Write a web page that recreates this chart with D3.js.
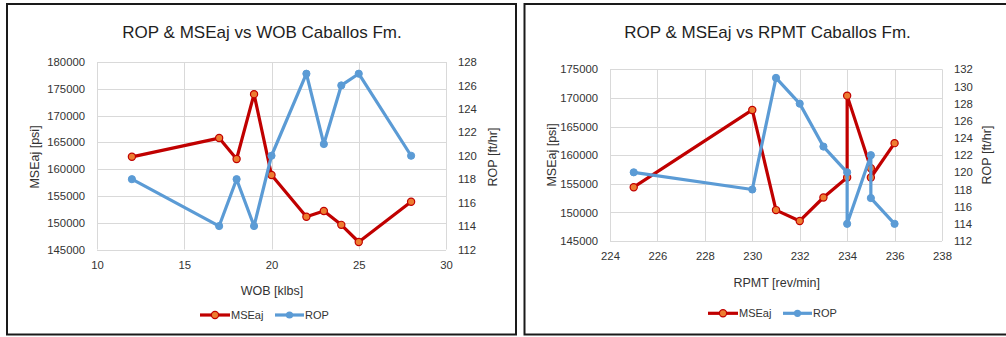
<!DOCTYPE html>
<html>
<head>
<meta charset="utf-8">
<script src="https://cdn.jsdelivr.net/npm/d3@7"></script>
<style>
  html, body { margin: 0; padding: 0; background: #fff; }
  svg { display: block; }
  text { font-family: "Liberation Sans", Arial, sans-serif; }
</style>
</head>
<body>
<svg id="chart" width="1006" height="337"></svg>
<script>
// ---------- data ----------
const wob = [12, 17, 18, 19, 20, 22, 23, 24, 25, 28];
const mseWob = [162300, 165800, 161900, 174000, 158900, 151100, 152200, 149600, 146400, 153900];
const ropWob = [118, 114, 118, 114, 120, 127, 121, 126, 127, 120];

const rpmt = [225, 230, 231, 232, 233, 234, 234, 235, 235, 236];
const mseRpm = [154400, 167900, 150400, 148500, 152600, 156100, 170400, 157700, 156100, 162100];
const ropRpm = [120, 118, 131, 128, 123, 120, 114, 122, 117, 114];

const wobTicks = [10, 15, 20, 25, 30];
const rpmTicks = [224, 226, 228, 230, 232, 234, 236, 238];
const mseTicksWob = [145000, 150000, 155000, 160000, 165000, 170000, 175000, 180000];
const mseTicksRpm = [145000, 150000, 155000, 160000, 165000, 170000, 175000];
const ropTicksWob = [112, 114, 116, 118, 120, 122, 124, 126, 128];
const ropTicksRpm = [112, 114, 116, 118, 120, 122, 124, 126, 128, 130, 132];

const titles = ["ROP & MSEaj vs WOB Caballos Fm.", "ROP & MSEaj vs RPMT Caballos Fm."];
const xTitles = ["WOB [klbs]", "RPMT [rev/min]"];
const yLeftTitle = "MSEaj [psi]";
const yRightTitle = "ROP [ft/hr]";
const seriesNames = ["MSEaj", "ROP"];

const RED = "#C00000", ORANGE = "#ED7D31", BLUE = "#5B9BD5";
const GRID = "#D9D9D9", TXT = "#333333";

const svg = d3.select("#chart");

// panel borders
svg.append("rect").attr("x", 7).attr("y", 4).attr("width", 509).attr("height", 330.5)
  .attr("fill", "none").attr("stroke", "#1a1a1a").attr("stroke-width", 2);
svg.append("rect").attr("x", 524.5).attr("y", 4).attr("width", 500).attr("height", 330.5)
  .attr("fill", "none").attr("stroke", "#1a1a1a").attr("stroke-width", 2);

function drawChart(cfg) {
  const g = svg.append("g");
  const x = d3.scaleLinear().domain(cfg.xDomain).range([cfg.left, cfg.right]);
  const yL = d3.scaleLinear().domain(cfg.yLDomain).range([cfg.bottom, cfg.top]);
  const yR = d3.scaleLinear().domain(cfg.yRDomain).range([cfg.bottom, cfg.top]);

  // gridlines
  g.append("g").selectAll("line.h").data(cfg.yLTicks).join("line")
    .attr("x1", cfg.left).attr("x2", cfg.right)
    .attr("y1", d => Math.round(yL(d)) + 0.5).attr("y2", d => Math.round(yL(d)) + 0.5)
    .attr("stroke", GRID).attr("stroke-width", 1);
  g.append("g").selectAll("line.v").data(cfg.xTicks).join("line")
    .attr("y1", cfg.top).attr("y2", cfg.bottom)
    .attr("x1", d => Math.round(x(d)) + 0.5).attr("x2", d => Math.round(x(d)) + 0.5)
    .attr("stroke", GRID).attr("stroke-width", 1);

  // axes (labels only)
  const axL = g.append("g").attr("transform", `translate(${cfg.left - 12},0)`)
    .call(d3.axisLeft(yL).tickValues(cfg.yLTicks).tickSize(0).tickPadding(0).tickFormat(d3.format("d")));
  const axR = g.append("g").attr("transform", `translate(${cfg.right + 12},0)`)
    .call(d3.axisRight(yR).tickValues(cfg.yRTicks).tickSize(0).tickPadding(0).tickFormat(d3.format("d")));
  const axB = g.append("g").attr("transform", `translate(0,${cfg.bottom + 11})`)
    .call(d3.axisBottom(x).tickValues(cfg.xTicks).tickSize(0).tickPadding(0).tickFormat(d3.format("d")));
  [axL, axR, axB].forEach(a => {
    a.select(".domain").remove();
    a.selectAll("text").attr("fill", TXT).style("font-size", "11.3px")
      .style("font-family", '"Liberation Sans", Arial, sans-serif');
  });

  // title
  g.append("text").attr("x", cfg.titleX).attr("y", cfg.titleY).attr("text-anchor", "middle")
    .attr("fill", "#1f1f1f").style("font-size", "17px").text(cfg.title);
  // x title
  g.append("text").attr("x", cfg.xTitleX).attr("y", cfg.xTitleY).attr("text-anchor", "middle")
    .attr("fill", TXT).style("font-size", "12.5px").text(cfg.xTitle);
  // y titles
  g.append("text").attr("transform", `translate(${cfg.yLTitleX},${cfg.yTitleY}) rotate(-90)`)
    .attr("text-anchor", "middle").attr("dominant-baseline", "central")
    .attr("fill", TXT).style("font-size", "12.5px").text(yLeftTitle);
  g.append("text").attr("transform", `translate(${cfg.yRTitleX},${cfg.yTitleY}) rotate(-90)`)
    .attr("text-anchor", "middle").attr("dominant-baseline", "central")
    .attr("fill", TXT).style("font-size", "12.5px").text(yRightTitle);

  // MSEaj series
  const mseLine = d3.line().x(d => x(d[0])).y(d => yL(d[1]));
  const msePts = cfg.xs.map((v, i) => [v, cfg.mse[i]]);
  g.append("path").datum(msePts).attr("d", mseLine).attr("fill", "none")
    .attr("stroke", RED).attr("stroke-width", 3.2).attr("stroke-linejoin", "round");
  g.append("g").selectAll("circle").data(msePts).join("circle")
    .attr("cx", d => x(d[0])).attr("cy", d => yL(d[1])).attr("r", 3.6)
    .attr("fill", ORANGE).attr("stroke", RED).attr("stroke-width", 1.2);

  // ROP series
  const ropLine = d3.line().x(d => x(d[0])).y(d => yR(d[1]));
  const ropPts = cfg.xs.map((v, i) => [v, cfg.rop[i]]);
  g.append("path").datum(ropPts).attr("d", ropLine).attr("fill", "none")
    .attr("stroke", BLUE).attr("stroke-width", 3.2).attr("stroke-linejoin", "round");
  g.append("g").selectAll("circle").data(ropPts).join("circle")
    .attr("cx", d => x(d[0])).attr("cy", d => yR(d[1])).attr("r", 3.6)
    .attr("fill", BLUE).attr("stroke", BLUE).attr("stroke-width", 1);

  // legend
  const ly = cfg.legendY;
  const lx = cfg.legendX;
  g.append("line").attr("x1", lx).attr("x2", lx + 30).attr("y1", ly).attr("y2", ly)
    .attr("stroke", RED).attr("stroke-width", 3.2);
  g.append("circle").attr("cx", lx + 15).attr("cy", ly).attr("r", 3.6)
    .attr("fill", ORANGE).attr("stroke", RED).attr("stroke-width", 1.2);
  g.append("text").attr("x", lx + 31).attr("y", ly).attr("dominant-baseline", "central")
    .attr("fill", TXT).style("font-size", "11px").text(seriesNames[0]);
  g.append("line").attr("x1", lx + 75).attr("x2", lx + 104).attr("y1", ly).attr("y2", ly)
    .attr("stroke", BLUE).attr("stroke-width", 3.2);
  g.append("circle").attr("cx", lx + 89.5).attr("cy", ly).attr("r", 3.6)
    .attr("fill", BLUE);
  g.append("text").attr("x", lx + 105).attr("y", ly).attr("dominant-baseline", "central")
    .attr("fill", TXT).style("font-size", "11px").text(seriesNames[1]);
}

drawChart({
  left: 97, right: 446, top: 62, bottom: 249.5,
  xDomain: [10, 30], yLDomain: [145000, 180000], yRDomain: [112, 128],
  xTicks: wobTicks, yLTicks: mseTicksWob, yRTicks: ropTicksWob,
  xs: wob, mse: mseWob, rop: ropWob,
  title: titles[0], titleX: 262, titleY: 38,
  xTitle: xTitles[0], xTitleX: 272, xTitleY: 294.5,
  yLTitleX: 35, yRTitleX: 493, yTitleY: 157,
  legendX: 200, legendY: 315
});

drawChart({
  left: 610, right: 942, top: 69.3, bottom: 241,
  xDomain: [224, 238], yLDomain: [145000, 175000], yRDomain: [112, 132],
  xTicks: rpmTicks, yLTicks: mseTicksRpm, yRTicks: ropTicksRpm,
  xs: rpmt, mse: mseRpm, rop: ropRpm,
  title: titles[1], titleX: 767.5, titleY: 38,
  xTitle: xTitles[1], xTitleX: 776.7, xTitleY: 287,
  yLTitleX: 551.7, yRTitleX: 986.7, yTitleY: 155,
  legendX: 708, legendY: 313.3
});
</script>
</body>
</html>
